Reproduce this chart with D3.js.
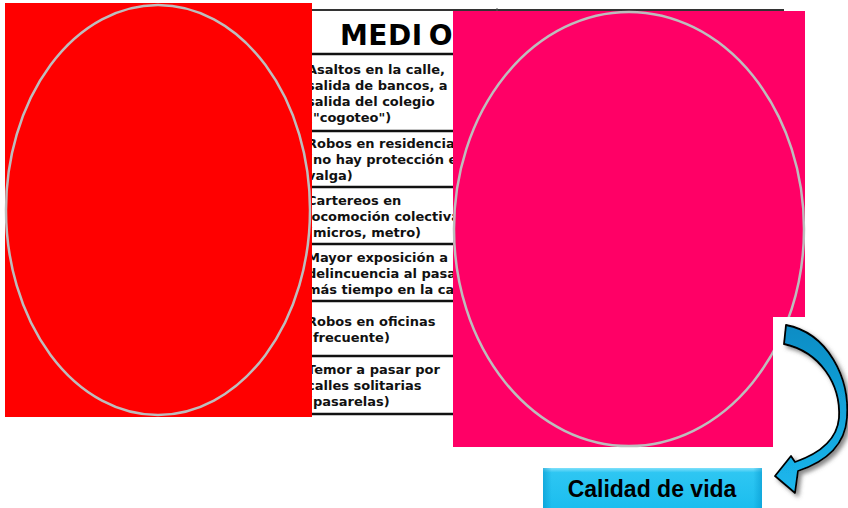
<!DOCTYPE html>
<html><head><meta charset="utf-8">
<script src="https://cdn.jsdelivr.net/npm/d3@7"></script>
<style>html,body{margin:0;padding:0;background:#fff;overflow:hidden}svg{display:block}</style>
</head><body>
<script>
// ---- data ----
const headerLabel = ["MEDI", "O"];
const rowLabels = [
  ["Asaltos en la calle,", "salida de bancos, a la", "salida del colegio", "(\"cogoteo\")"],
  ["Robos en residencias", "(no hay protección en", "valga)"],
  ["Cartereos en", "locomoción colectiva", "(micros, metro)"],
  ["Mayor exposición a la", "delincuencia al pasar", "más tiempo en la calle"],
  ["Robos en oficinas", "(frecuente)"],
  ["Temor a pasar por", "calles solitarias", "(pasarelas)"]
];
const buttonLabel = "Calidad de vida";
const panelColors = ["#ff0000", "#ff0066"];

// ---- layout ----
const W = 848, H = 508;
const svg = d3.select("body").append("svg").attr("width", W).attr("height", H);
const defs = svg.append("defs");

const rowEdges = [54, 131, 187, 244, 301, 356, 414];
const y = d3.scaleLinear().domain(d3.range(rowEdges.length)).range(rowEdges);

// table
const table = svg.append("g");
table.append("line").attr("x1", 290).attr("x2", 784).attr("y1", 10).attr("y2", 10)
  .attr("stroke", "#333").attr("stroke-width", 2);
table.append("line").attr("x1", 497).attr("x2", 497).attr("y1", 8).attr("y2", 12)
  .attr("stroke", "#555").attr("stroke-width", 1);
const head = table.append("text").attr("x", 340).attr("y", 45)
  .attr("font-family", "DejaVu Sans").attr("font-weight", "bold").attr("font-size", 28)
  .attr("letter-spacing", 0.5).attr("fill", "#000");
head.append("tspan").text(headerLabel[0]);
head.append("tspan").attr("dx", 6).text(headerLabel[1]);
table.selectAll("line.row").data(rowEdges).join("line").attr("class", "row")
  .attr("x1", 290).attr("x2", 784).attr("y1", (d, i) => y(i)).attr("y2", (d, i) => y(i))
  .attr("stroke", "#111").attr("stroke-width", 2.5);
rowLabels.forEach((lines, i) => {
  const c = (y(i) + y(i + 1)) / 2;
  const t = table.append("text").attr("font-family", "DejaVu Sans").attr("font-weight", "bold")
    .attr("font-size", 13).attr("fill", "#111");
  lines.forEach((ln, j) => {
    t.append("tspan").attr("x", 307).attr("y", c - (lines.length - 1) * 8 + 5 + j * 16).text(ln);
  });
});

// panels
const panels = [
  {x: 5, y: 3, w: 307, h: 414, cx: 158, cy: 210, rx: 152, ry: 205},
  {x: 453, y: 11, w: 352, h: 436, cx: 629, cy: 229, rx: 175, ry: 217}
];
panels.forEach((p, i) => {
  svg.append("rect").attr("x", p.x).attr("y", p.y).attr("width", p.w).attr("height", p.h)
    .attr("fill", panelColors[i]);
  svg.append("ellipse").attr("cx", p.cx).attr("cy", p.cy).attr("rx", p.rx).attr("ry", p.ry)
    .attr("fill", "none").attr("stroke", "#bdbdbd").attr("stroke-width", 2.5);
});

// white box behind arrow
svg.append("rect").attr("x", 773).attr("y", 317).attr("width", 75).attr("height", 191).attr("fill", "#fff");

// arrow
const ag = defs.append("linearGradient").attr("id", "ag").attr("x1", 0).attr("y1", 0).attr("x2", 0).attr("y2", 1);
ag.append("stop").attr("offset", "0%").attr("stop-color", "#0a8cc4");
ag.append("stop").attr("offset", "100%").attr("stop-color", "#1cb8ee");
const sh = defs.append("filter").attr("id", "sh").attr("x", "-30%").attr("y", "-30%").attr("width", "160%").attr("height", "160%");
sh.append("feDropShadow").attr("dx", 3).attr("dy", 3).attr("stdDeviation", 2).attr("flood-color", "#555").attr("flood-opacity", 0.7);
svg.append("path")
  .attr("d", "M786,325 C828,333 850,378 847,418 C845,446 825,462 798,471 L795,493 L775,476 L791,456 L795,462 C818,454 837,440 839,418 C841,384 820,352 784,344 Z")
  .attr("fill", "url(#ag)").attr("stroke", "#000").attr("stroke-width", 1.8)
  .attr("stroke-linejoin", "round").attr("filter", "url(#sh)");

// button
const bg = defs.append("linearGradient").attr("id", "bg").attr("x1", 0).attr("y1", 0).attr("x2", 0).attr("y2", 1);
bg.append("stop").attr("offset", "0%").attr("stop-color", "#7fe0fb");
bg.append("stop").attr("offset", "10%").attr("stop-color", "#2ec6f2");
bg.append("stop").attr("offset", "100%").attr("stop-color", "#18bcee");
const bx = defs.append("linearGradient").attr("id", "bx").attr("x1", 0).attr("y1", 0).attr("x2", 1).attr("y2", 0);
bx.append("stop").attr("offset", "0%").attr("stop-color", "#0090c8").attr("stop-opacity", 0.5);
bx.append("stop").attr("offset", "4%").attr("stop-color", "#0090c8").attr("stop-opacity", 0);
bx.append("stop").attr("offset", "96%").attr("stop-color", "#0090c8").attr("stop-opacity", 0);
bx.append("stop").attr("offset", "100%").attr("stop-color", "#0090c8").attr("stop-opacity", 0.5);
svg.append("rect").attr("x", 543).attr("y", 468).attr("width", 219).attr("height", 46).attr("fill", "url(#bg)");
svg.append("rect").attr("x", 543).attr("y", 468).attr("width", 219).attr("height", 46).attr("fill", "url(#bx)");
svg.append("text").attr("x", 652).attr("y", 497).attr("text-anchor", "middle")
  .attr("font-family", "Liberation Sans, Arial").attr("font-weight", "bold").attr("font-size", 23)
  .attr("fill", "#000").text(buttonLabel);
</script>
</body></html>
